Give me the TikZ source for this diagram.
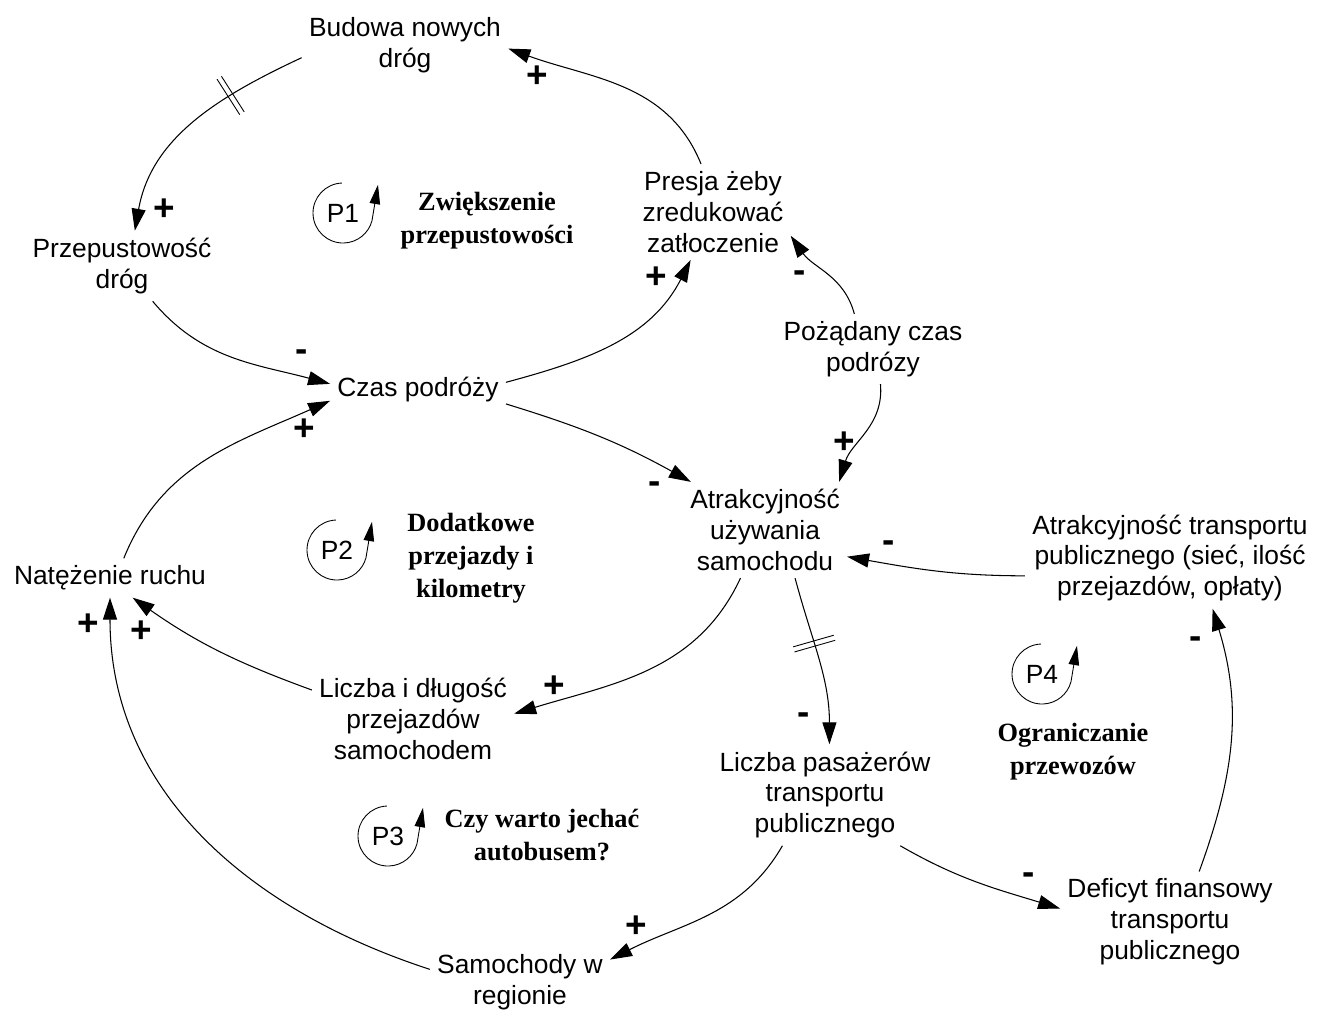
\documentclass[tikz,border=0pt]{standalone}
\usepackage{fontspec}
\setmainfont{Liberation Sans}
\newfontfamily\loopfont{Liberation Serif}
\usetikzlibrary{arrows.meta,decorations.markings}

\begin{document}
\begin{tikzpicture}
      [x=0.02cm,y=0.02cm,font=\fontsize{15}{17.6}\selectfont,
       var/.style={align=center,inner sep=4pt},
       sign/.style={inner sep=0pt,font=\fontsize{21}{21}\selectfont\bfseries},
       loopname/.style={align=center,font=\fontsize{15}{18.8}\selectfont\loopfont\bfseries},
       link/.style={line width=0.6pt,-{Triangle[length=12.5pt,width=8pt]}},
       loopar/.style={line width=0.5pt,-{Triangle[length=11pt,width=6pt]}},
       delay/.style={postaction={decorate},decoration={markings,
         mark=at position #1 with {\draw[-,line width=0.5pt] (-1.5pt,-12pt) -- (-1.5pt,12pt) (1.5pt,-12pt) -- (1.5pt,12pt);}}}]
        \useasboundingbox (0,0) rectangle (1329,-1009);

        \node[var] (bud) at (405,-45) {Budowa nowych\\dróg};
        \node[var] (prz) at (122,-266) {Przepustowość\\dróg};
        \node[var] (pre) at (713,-212) {Presja żeby\\zredukować\\zatłoczenie};
        \node[var] (czas) at (418,-390) {Czas podróży};
        \node[var] (poz) at (873,-349) {Pożądany czas\\podrózy};
        \node[var] (atr) at (765,-530) {Atrakcyjność\\używania\\samochodu};
        \node[var] (atrt) at (1170,-558) {Atrakcyjność transportu\\publicznego (sieć, ilość\\przejazdów, opłaty)};
        \node[var] (nat) at (110,-578) {Natężenie ruchu};
        \node[var] (lid) at (413,-719) {Liczba i długość\\przejazdów\\samochodem};
        \node[var] (pas) at (825,-795) {Liczba pasażerów\\transportu\\publicznego};
        \node[var] (def) at (1170,-922) {Deficyt finansowy\\transportu\\publicznego};
        \node[var] (sam) at (520,-982) {Samochody w\\regionie};

        % petle
        \node (p1) at (343,-213) {P1};
        \node (p2) at (337,-550) {P2};
        \node (p3) at (388,-836) {P3};
        \node (p4) at (1042,-674) {P4};
        \draw[loopar] (p1.center) ++(92:30) arc[start angle=92,end angle=345,radius=30] -- ++(6,36);
        \draw[loopar] (p2.center) ++(92:30) arc[start angle=92,end angle=345,radius=30] -- ++(6,36);
        \draw[loopar] (p3.center) ++(92:30) arc[start angle=92,end angle=345,radius=30] -- ++(6,36);
        \draw[loopar] (p4.center) ++(92:30) arc[start angle=92,end angle=345,radius=30] -- ++(6,36);
        \node[loopname] (l1) at (487,-221) {Zwiększenie\\przepustowości};
        \node[loopname] (l2) at (471,-558) {Dodatkowe\\przejazdy i\\kilometry};
        \node[loopname] (l3) at (542,-835) {Czy warto jechać\\autobusem?};
        \node[loopname] (l4) at (1073,-752) {Ograniczanie\\przewozów};

        \draw[link,delay=0.32] (bud.187) to[out=205,in=80] (prz.70);
        \draw[link] (prz.311) to[out=310,in=165] (czas.176);
        \draw[link] (czas.5) to[out=15,in=243] (pre.245);
        \draw[link] (pre.104) to[out=112,in=340] (bud.358);
        \draw[link] (poz.118) to[out=105,in=305] (pre.343);
        \draw[link] (poz.282) to[out=275,in=73] (atr.33);
        \draw[link] (czas.351) to[out=343,in=151] (atr.147);
        \draw[link] (nat.55) to[out=68,in=204] (czas.187);
        \draw[link] (atrt.187) to[out=180,in=350] (atr.342);
        \draw[link] (atr.243) to[out=245,in=17] (lid.3);
        \draw[link] (lid.164) to[out=160,in=325] (nat.319);
        \draw[link,delay=0.4] (atr.302) to[out=285,in=90] (pas.85);
        \draw[link] (pas.326) to[out=330,in=163] (def.173);
        \draw[link] (def.60) to[out=70,in=287] (atrt.310);
        \draw[link] (pas.230) to[out=240,in=27] (sam.14);
        \draw[link] (sam.172) to[out=162,in=270] (nat.south);

        % znaki
        \node[sign] (s1) at (164,-210) {+};
        \node[sign] (s2) at (302,-356) {-};
        \node[sign] (s3) at (304,-430) {+};
        \node[sign] (s4) at (537,-77) {+};
        \node[sign] (s5) at (656,-278) {+};
        \node[sign] (s6) at (800,-277) {-};
        \node[sign] (s7) at (844,-443) {+};
        \node[sign] (s8) at (655,-488) {-};
        \node[sign] (s9) at (889,-547) {-};
        \node[sign] (s10) at (1196,-643) {-};
        \node[sign] (s11) at (554,-687) {+};
        \node[sign] (s12) at (88,-625) {+};
        \node[sign] (s13) at (141,-632) {+};
        \node[sign] (s14) at (804,-719) {-};
        \node[sign] (s15) at (1029,-879) {-};
        \node[sign] (s16) at (636,-927) {+};

      \end{tikzpicture}
\end{document}
